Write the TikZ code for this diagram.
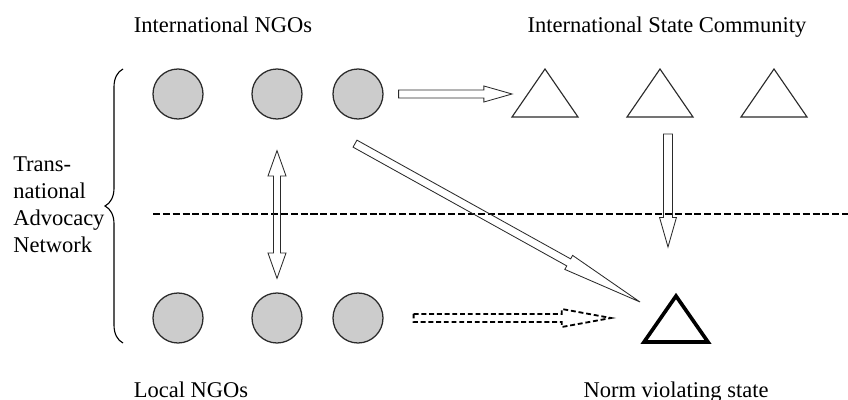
\documentclass[tikz,border=0pt]{standalone}
\usepackage{fontspec}
\setmainfont{Liberation Serif}
\definecolor{ngogray}{HTML}{CCCCCC}
\definecolor{inkgray}{HTML}{2A2A2A}
\usetikzlibrary{calc,decorations.pathreplacing}

\newcommand{\blockarrow}[6][]{%
  \draw[barrow,#1] let \p1=(#2), \p2=(#3), \n1={atan2(\y2-\y1,\x2-\x1)}, \n2={veclen(\x2-\x1,\y2-\y1)} in
    {[shift={(\p1)},rotate=\n1] (0pt,#4) -- ({\n2-#6},#4) -- ({\n2-#6},#5) -- (\n2,0pt)
      -- ({\n2-#6},-#5) -- ({\n2-#6},-#4) -- (0pt,-#4) -- cycle};}
\newcommand{\twowayarrow}[6][]{%
  \draw[barrow,#1] let \p1=(#2), \p2=(#3), \n1={atan2(\y2-\y1,\x2-\x1)}, \n2={veclen(\x2-\x1,\y2-\y1)} in
    {[shift={(\p1)},rotate=\n1] (0pt,0pt) -- (#6,#5) -- (#6,#4) -- ({\n2-#6},#4) -- ({\n2-#6},#5) -- (\n2,0pt)
      -- ({\n2-#6},-#5) -- ({\n2-#6},-#4) -- (#6,-#4) -- (#6,-#5) -- cycle};}

\begin{document}
\begin{tikzpicture}[x=0.025cm,y=-0.025cm,
  ngo/.style={circle,draw=inkgray,fill=ngogray,line width=0.9pt,minimum size=1.25cm,inner sep=0pt},
  statetri/.style={draw=inkgray,line width=0.8pt,line join=miter},
  barrow/.style={draw=inkgray,line width=0.6pt,line join=miter},
  lbl/.style={font=\fontsize{16}{19.2}\selectfont,inner sep=0pt,anchor=base}]
  \useasboundingbox (0,0) rectangle (848,400);
  \node[lbl] (intl) at (223,33) {International NGOs};
  \node[lbl] (isc) at (667,33) {International State Community};
  \node[lbl] (loc) at (191,397) {Local NGOs};
  \node[lbl] (nvs) at (676,397) {Norm violating state};
  \node[lbl,anchor=north west,align=left] (tan) at (13,156) {Trans-\\national\\Advocacy\\Network};
  \draw[decorate,decoration={brace,amplitude=12.8pt},line width=0.8pt] (123,343) -- (123,69);
  \draw[line width=1.2pt,dash pattern=on 5pt off 2pt] (153,214) -- (848,214);
  \foreach \x/\n in {178/1,277/2,358/3} {
    \node[ngo] (i\n) at (\x,94) {};
    \node[ngo] (l\n) at (\x,318) {};
  }
  \foreach \x/\n in {545/1,660/2,774/3} {
    \coordinate (t\n) at (\x,94);
    \draw[statetri] (t\n) ++(0,-25) -- ++(33,48) -- ++(-66,0) -- cycle;
  }
  \coordinate (nv) at (676,318);
  \draw[statetri,draw=black,line width=2.6pt] (nv) ++(0,-22) -- ++(32,46) -- ++(-64,0) -- cycle;
  \blockarrow{$(i3.east)+(15,0)$}{$(t1)+(-33,0)$}{2.85pt}{5.7pt}{20pt}
  \blockarrow{$(t2)+(8,40)$}{$(nv)+(-8,-71)$}{3.2pt}{6pt}{21pt}
  \blockarrow{$(i3.south)+(-3,24)$}{$(nv)+(-36,-16)$}{2.85pt}{5.7pt}{58pt}
  \blockarrow[draw=black,line width=1.3pt,dash pattern=on 3.5pt off 2pt]{$(l3.east)+(30,0)$}{$(nv)+(-65,0)$}{2.85pt}{6.4pt}{35pt}
  \twowayarrow{$(i2.south)+(0,31)$}{$(l2.north)+(0,-14)$}{2.5pt}{6.4pt}{18pt}
\end{tikzpicture}
\end{document}
